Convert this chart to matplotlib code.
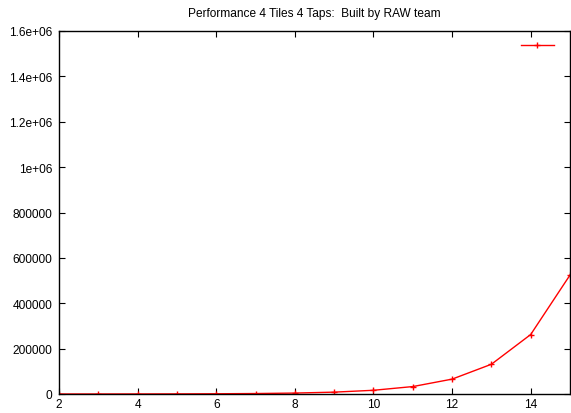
import matplotlib
matplotlib.use("Agg")
import matplotlib.pyplot as plt

# tiles size vs. throughput
x = [2, 3, 4, 5, 6, 7, 8, 9, 10, 11, 12, 13, 14, 15]
y = [64, 128, 256, 512, 1024, 2048, 4096, 8192, 16384, 32768,
     65536, 131072, 262144, 524288]

plt.rcParams['font.family'] = ['Liberation Sans', 'DejaVu Sans']
plt.rcParams['font.size'] = 8.6

fig = plt.figure(figsize=(5.71, 4.14), dpi=100)
ax = fig.add_axes([59 / 571, 19 / 414, 511 / 571, 363 / 414])

ax.plot(x, y, color='red', linewidth=1, marker='+', markersize=5,
        markeredgewidth=1, label=' ')

ax.set_xlim(2, 15)
ax.set_ylim(0, 1.6e6)
ax.set_xticks([2, 4, 6, 8, 10, 12, 14])
yt = [0, 200000, 400000, 600000, 800000, 1000000, 1200000, 1400000, 1600000]
ytl = ['0', '200000', '400000', '600000', '800000', '1e+06', '1.2e+06',
       '1.4e+06', '1.6e+06']
ax.set_yticks(yt)
ax.set_yticklabels(ytl)
ax.tick_params(direction='in', top=True, right=True, length=4, width=0.8,
               labelsize=8.6, pad=5)
ax.tick_params(axis='x', pad=3)
for s in ax.spines.values():
    s.set_linewidth(1)

ax.set_title('Performance 4 Tiles 4 Taps:  Built by RAW team', fontsize=8.6, pad=11)

leg = ax.legend(loc='upper right', frameon=False, handlelength=2.7,
                handletextpad=0.3, borderaxespad=0.4)

fig.savefig('out.png', dpi=100)
